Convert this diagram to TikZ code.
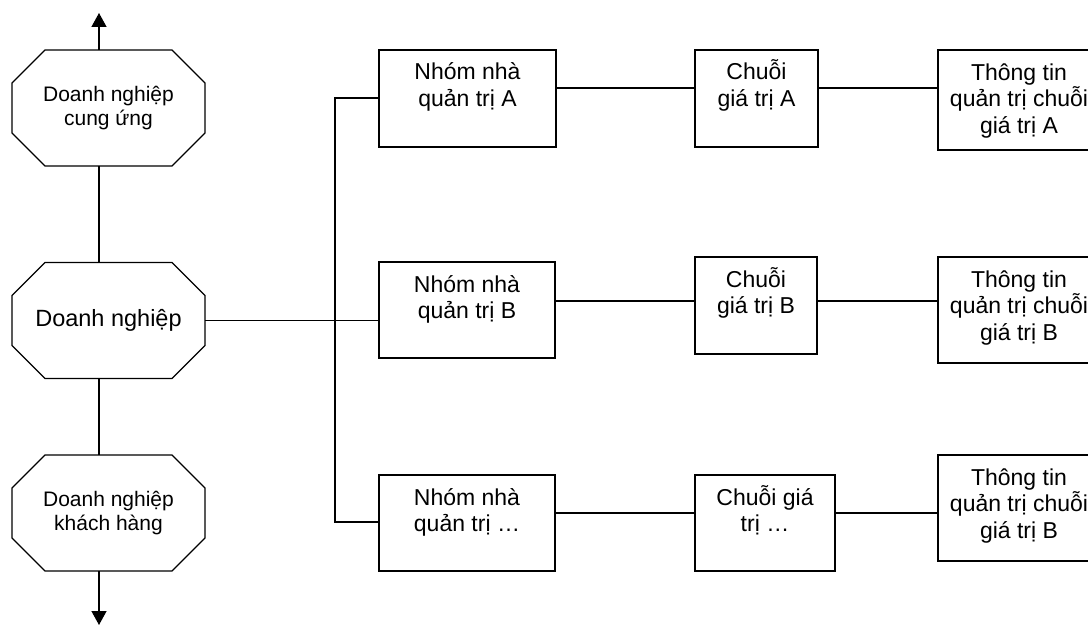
\documentclass[tikz,border=0pt]{standalone}
\usepackage{fontspec}
\setmainfont{Liberation Sans}
\usetikzlibrary{arrows.meta}
\newcommand{\boxtxt}[3]{\parbox[c][#2][t]{#1}{\centering\rule{0pt}{30pt}#3\par}}
\newcommand{\drawocta}[1]{\draw ([xshift=33pt]#1.north west) -- ([xshift=-33pt]#1.north east) -- ([yshift=-33pt]#1.north east) -- ([yshift=33pt]#1.south east) -- ([xshift=-33pt]#1.south east) -- ([xshift=33pt]#1.south west) -- ([yshift=33pt]#1.south west) -- ([yshift=-33pt]#1.north west) -- cycle;}
\tikzset{
  box/.style={draw, line width=1.4pt, inner sep=0pt, font=\fontsize{23}{26.5}\selectfont},
  octa/.style={inner sep=0pt, outer sep=0pt, minimum width=193pt, minimum height=116pt, align=center},
  smalltxt/.style={font=\fontsize{21}{24}\selectfont},
  bigtxt/.style={font=\fontsize{23.5}{27}\selectfont},
  conn/.style={line width=1.4pt},
  arr/.style={line width=1.4pt, -{Triangle[length=14pt,width=15pt]}}
}
\begin{document}
\begin{tikzpicture}[x=1pt,y=-1pt,line width=1.4pt]
\useasboundingbox (0,0) rectangle (1088,626);
% octagons
\node[octa,smalltxt] (sup) at (108.5,108) {Doanh nghiệp\\cung ứng};
\node[octa,bigtxt] (mid) at (108.5,320.5) {Doanh nghiệp};
\node[octa,smalltxt] (cus) at (108.5,513) {Doanh nghiệp\\khách hàng};
\drawocta{sup}
\drawocta{mid}
\drawocta{cus}
\coordinate (topend) at (99,13);
\coordinate (botend) at (99,625);
\draw[arr] (sup.north -| topend) -- (topend);
\draw[conn] (sup.south -| topend) -- (mid.north -| topend);
\draw[conn] (mid.south -| topend) -- (cus.north -| topend);
\draw[arr] (cus.south -| botend) -- (botend);
% group boxes
\node[box] (nA) at (467.5,98.5) {\boxtxt{177pt}{97pt}{Nhóm nhà\\quản trị A}};
\node[box] (nB) at (467,310) {\boxtxt{176pt}{96pt}{Nhóm nhà\\quản trị B}};
\node[box] (nC) at (467,523) {\boxtxt{176pt}{96pt}{Nhóm nhà\\quản trị …}};
% chain boxes
\node[box] (cA) at (756.5,98.5) {\boxtxt{123pt}{97pt}{Chuỗi\\giá trị A}};
\node[box] (cB) at (756,305.5) {\boxtxt{122pt}{97pt}{Chuỗi\\giá trị B}};
\node[box] (cC) at (765,523) {\boxtxt{140pt}{96pt}{Chuỗi giá\\trị …}};
% info boxes
\node[box] (tA) at (1019,100) {\boxtxt{162pt}{100pt}{Thông tin\\quản trị chuỗi\\giá trị A}};
\node[box] (tB) at (1019,310) {\boxtxt{162pt}{106pt}{Thông tin\\quản trị chuỗi\\giá trị B}};
\node[box] (tC) at (1019,508) {\boxtxt{162pt}{106pt}{Thông tin\\quản trị chuỗi\\giá trị B}};
% trunk
\coordinate (tt) at (335,98);
\coordinate (tb) at (335,522);
\draw[conn] (nA.west |- tt) -- (tt) -- (tb) -- (nC.west |- tb);
\draw[conn] (mid.east) -- (mid.east -| nB.west);
% rows
\draw[conn] (nA.east |- 0,88) -- (cA.west |- 0,88);
\draw[conn] (cA.east |- 0,88) -- (tA.west |- 0,88);
\draw[conn] (nB.east |- 0,301) -- (cB.west |- 0,301);
\draw[conn] (cB.east |- 0,301) -- (tB.west |- 0,301);
\draw[conn] (nC.east |- 0,513) -- (cC.west |- 0,513);
\draw[conn] (cC.east |- 0,513) -- (tC.west |- 0,513);
\end{tikzpicture}
\end{document}
